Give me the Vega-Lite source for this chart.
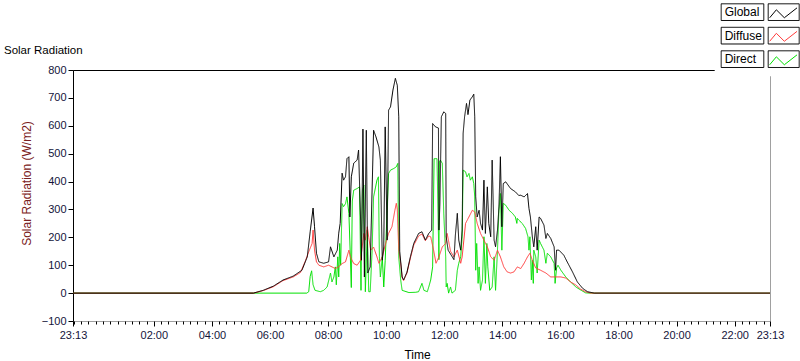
{
  "$schema": "https://vega.github.io/schema/vega-lite/v6.json",
  "width": 697,
  "height": 251,
  "autosize": "none",
  "padding": {"left": 73, "top": 70, "right": 30, "bottom": 40},
  "background": "white",
  "title": {"text": "Solar Radiation", "anchor": "start", "frame": "group", "dx": -69, "dy": 84, "offset": 16, "baseline": "alphabetic", "font": "Liberation Sans", "fontSize": 11.5, "fontWeight": "normal", "color": "#000000"},
  "data": {
    "values": [
      {"s":"Direct","t":"2024-01-01T23:13","v":0},
      {"s":"Direct","t":"2024-01-02T07:16","v":0},
      {"s":"Direct","t":"2024-01-02T07:20","v":5},
      {"s":"Direct","t":"2024-01-02T07:23","v":60},
      {"s":"Direct","t":"2024-01-02T07:26","v":80},
      {"s":"Direct","t":"2024-01-02T07:29","v":30},
      {"s":"Direct","t":"2024-01-02T07:33","v":10},
      {"s":"Direct","t":"2024-01-02T07:44","v":5},
      {"s":"Direct","t":"2024-01-02T07:51","v":10},
      {"s":"Direct","t":"2024-01-02T07:58","v":22},
      {"s":"Direct","t":"2024-01-02T08:05","v":72},
      {"s":"Direct","t":"2024-01-02T08:08","v":40},
      {"s":"Direct","t":"2024-01-02T08:12","v":58},
      {"s":"Direct","t":"2024-01-02T08:15","v":94},
      {"s":"Direct","t":"2024-01-02T08:17","v":30},
      {"s":"Direct","t":"2024-01-02T08:19","v":94},
      {"s":"Direct","t":"2024-01-02T08:20","v":130},
      {"s":"Direct","t":"2024-01-02T08:22","v":58},
      {"s":"Direct","t":"2024-01-02T08:24","v":178},
      {"s":"Direct","t":"2024-01-02T08:26","v":100},
      {"s":"Direct","t":"2024-01-02T08:29","v":321},
      {"s":"Direct","t":"2024-01-02T08:32","v":310},
      {"s":"Direct","t":"2024-01-02T08:36","v":321},
      {"s":"Direct","t":"2024-01-02T08:39","v":345},
      {"s":"Direct","t":"2024-01-02T08:43","v":286},
      {"s":"Direct","t":"2024-01-02T08:46","v":130},
      {"s":"Direct","t":"2024-01-02T08:48","v":20},
      {"s":"Direct","t":"2024-01-02T08:50","v":330},
      {"s":"Direct","t":"2024-01-02T08:53","v":369},
      {"s":"Direct","t":"2024-01-02T09:00","v":375},
      {"s":"Direct","t":"2024-01-02T09:05","v":381},
      {"s":"Direct","t":"2024-01-02T09:08","v":10},
      {"s":"Direct","t":"2024-01-02T09:11","v":370},
      {"s":"Direct","t":"2024-01-02T09:14","v":387},
      {"s":"Direct","t":"2024-01-02T09:17","v":5},
      {"s":"Direct","t":"2024-01-02T09:21","v":226},
      {"s":"Direct","t":"2024-01-02T09:24","v":5},
      {"s":"Direct","t":"2024-01-02T09:27","v":5},
      {"s":"Direct","t":"2024-01-02T09:31","v":154},
      {"s":"Direct","t":"2024-01-02T09:34","v":345},
      {"s":"Direct","t":"2024-01-02T09:41","v":405},
      {"s":"Direct","t":"2024-01-02T09:44","v":417},
      {"s":"Direct","t":"2024-01-02T09:46","v":130},
      {"s":"Direct","t":"2024-01-02T09:48","v":58},
      {"s":"Direct","t":"2024-01-02T09:52","v":130},
      {"s":"Direct","t":"2024-01-02T09:55","v":22},
      {"s":"Direct","t":"2024-01-02T09:58","v":118},
      {"s":"Direct","t":"2024-01-02T10:02","v":297},
      {"s":"Direct","t":"2024-01-02T10:05","v":429},
      {"s":"Direct","t":"2024-01-02T10:09","v":441},
      {"s":"Direct","t":"2024-01-02T10:16","v":447},
      {"s":"Direct","t":"2024-01-02T10:21","v":453},
      {"s":"Direct","t":"2024-01-02T10:24","v":465},
      {"s":"Direct","t":"2024-01-02T10:26","v":130},
      {"s":"Direct","t":"2024-01-02T10:30","v":47},
      {"s":"Direct","t":"2024-01-02T10:33","v":10},
      {"s":"Direct","t":"2024-01-02T10:47","v":2},
      {"s":"Direct","t":"2024-01-02T11:01","v":3},
      {"s":"Direct","t":"2024-01-02T11:07","v":5},
      {"s":"Direct","t":"2024-01-02T11:14","v":35},
      {"s":"Direct","t":"2024-01-02T11:18","v":10},
      {"s":"Direct","t":"2024-01-02T11:25","v":5},
      {"s":"Direct","t":"2024-01-02T11:28","v":22},
      {"s":"Direct","t":"2024-01-02T11:32","v":47},
      {"s":"Direct","t":"2024-01-02T11:36","v":94},
      {"s":"Direct","t":"2024-01-02T11:39","v":482},
      {"s":"Direct","t":"2024-01-02T11:45","v":482},
      {"s":"Direct","t":"2024-01-02T11:49","v":120},
      {"s":"Direct","t":"2024-01-02T11:50","v":470},
      {"s":"Direct","t":"2024-01-02T11:52","v":477},
      {"s":"Direct","t":"2024-01-02T11:56","v":465},
      {"s":"Direct","t":"2024-01-02T11:59","v":286},
      {"s":"Direct","t":"2024-01-02T12:03","v":130},
      {"s":"Direct","t":"2024-01-02T12:04","v":22},
      {"s":"Direct","t":"2024-01-02T12:06","v":35},
      {"s":"Direct","t":"2024-01-02T12:09","v":0},
      {"s":"Direct","t":"2024-01-02T12:13","v":22},
      {"s":"Direct","t":"2024-01-02T12:16","v":0},
      {"s":"Direct","t":"2024-01-02T12:23","v":10},
      {"s":"Direct","t":"2024-01-02T12:27","v":82},
      {"s":"Direct","t":"2024-01-02T12:30","v":107},
      {"s":"Direct","t":"2024-01-02T12:34","v":130},
      {"s":"Direct","t":"2024-01-02T12:37","v":202},
      {"s":"Direct","t":"2024-01-02T12:39","v":441},
      {"s":"Direct","t":"2024-01-02T12:44","v":435},
      {"s":"Direct","t":"2024-01-02T12:47","v":417},
      {"s":"Direct","t":"2024-01-02T12:51","v":429},
      {"s":"Direct","t":"2024-01-02T12:54","v":405},
      {"s":"Direct","t":"2024-01-02T12:58","v":417},
      {"s":"Direct","t":"2024-01-02T13:01","v":393},
      {"s":"Direct","t":"2024-01-02T13:03","v":345},
      {"s":"Direct","t":"2024-01-02T13:05","v":82},
      {"s":"Direct","t":"2024-01-02T13:07","v":178},
      {"s":"Direct","t":"2024-01-02T13:10","v":35},
      {"s":"Direct","t":"2024-01-02T13:12","v":94},
      {"s":"Direct","t":"2024-01-02T13:15","v":10},
      {"s":"Direct","t":"2024-01-02T13:19","v":47},
      {"s":"Direct","t":"2024-01-02T13:22","v":202},
      {"s":"Direct","t":"2024-01-02T13:25","v":35},
      {"s":"Direct","t":"2024-01-02T13:28","v":178},
      {"s":"Direct","t":"2024-01-02T13:30","v":94},
      {"s":"Direct","t":"2024-01-02T13:34","v":10},
      {"s":"Direct","t":"2024-01-02T13:39","v":22},
      {"s":"Direct","t":"2024-01-02T13:43","v":130},
      {"s":"Direct","t":"2024-01-02T13:46","v":10},
      {"s":"Direct","t":"2024-01-02T13:50","v":154},
      {"s":"Direct","t":"2024-01-02T13:53","v":297},
      {"s":"Direct","t":"2024-01-02T13:56","v":357},
      {"s":"Direct","t":"2024-01-02T13:59","v":154},
      {"s":"Direct","t":"2024-01-02T14:02","v":322},
      {"s":"Direct","t":"2024-01-02T14:07","v":315},
      {"s":"Direct","t":"2024-01-02T14:14","v":297},
      {"s":"Direct","t":"2024-01-02T14:21","v":286},
      {"s":"Direct","t":"2024-01-02T14:27","v":273},
      {"s":"Direct","t":"2024-01-02T14:30","v":250},
      {"s":"Direct","t":"2024-01-02T14:31","v":268},
      {"s":"Direct","t":"2024-01-02T14:34","v":262},
      {"s":"Direct","t":"2024-01-02T14:41","v":250},
      {"s":"Direct","t":"2024-01-02T14:48","v":232},
      {"s":"Direct","t":"2024-01-02T14:53","v":202},
      {"s":"Direct","t":"2024-01-02T14:55","v":154},
      {"s":"Direct","t":"2024-01-02T14:57","v":202},
      {"s":"Direct","t":"2024-01-02T15:00","v":47},
      {"s":"Direct","t":"2024-01-02T15:02","v":118},
      {"s":"Direct","t":"2024-01-02T15:04","v":35},
      {"s":"Direct","t":"2024-01-02T15:05","v":154},
      {"s":"Direct","t":"2024-01-02T15:09","v":130},
      {"s":"Direct","t":"2024-01-02T15:12","v":72},
      {"s":"Direct","t":"2024-01-02T15:16","v":190},
      {"s":"Direct","t":"2024-01-02T15:19","v":178},
      {"s":"Direct","t":"2024-01-02T15:26","v":154},
      {"s":"Direct","t":"2024-01-02T15:30","v":107},
      {"s":"Direct","t":"2024-01-02T15:33","v":143},
      {"s":"Direct","t":"2024-01-02T15:40","v":130},
      {"s":"Direct","t":"2024-01-02T15:47","v":107},
      {"s":"Direct","t":"2024-01-02T15:49","v":35},
      {"s":"Direct","t":"2024-01-02T15:52","v":90},
      {"s":"Direct","t":"2024-01-02T15:55","v":100},
      {"s":"Direct","t":"2024-01-02T16:01","v":82},
      {"s":"Direct","t":"2024-01-02T16:11","v":58},
      {"s":"Direct","t":"2024-01-02T16:21","v":40},
      {"s":"Direct","t":"2024-01-02T16:32","v":22},
      {"s":"Direct","t":"2024-01-02T16:42","v":11},
      {"s":"Direct","t":"2024-01-02T16:52","v":1},
      {"s":"Direct","t":"2024-01-02T16:59","v":0},
      {"s":"Direct","t":"2024-01-02T23:13","v":0},
      {"s":"Diffuse","t":"2024-01-01T23:13","v":0},
      {"s":"Diffuse","t":"2024-01-02T05:26","v":0},
      {"s":"Diffuse","t":"2024-01-02T05:46","v":9},
      {"s":"Diffuse","t":"2024-01-02T06:07","v":23},
      {"s":"Diffuse","t":"2024-01-02T06:27","v":45},
      {"s":"Diffuse","t":"2024-01-02T06:48","v":58},
      {"s":"Diffuse","t":"2024-01-02T07:03","v":74},
      {"s":"Diffuse","t":"2024-01-02T07:13","v":115},
      {"s":"Diffuse","t":"2024-01-02T07:20","v":148},
      {"s":"Diffuse","t":"2024-01-02T07:27","v":178},
      {"s":"Diffuse","t":"2024-01-02T07:29","v":226},
      {"s":"Diffuse","t":"2024-01-02T07:32","v":154},
      {"s":"Diffuse","t":"2024-01-02T07:36","v":112},
      {"s":"Diffuse","t":"2024-01-02T07:41","v":100},
      {"s":"Diffuse","t":"2024-01-02T07:51","v":94},
      {"s":"Diffuse","t":"2024-01-02T08:01","v":100},
      {"s":"Diffuse","t":"2024-01-02T08:08","v":94},
      {"s":"Diffuse","t":"2024-01-02T08:15","v":88},
      {"s":"Diffuse","t":"2024-01-02T08:22","v":95},
      {"s":"Diffuse","t":"2024-01-02T08:29","v":106},
      {"s":"Diffuse","t":"2024-01-02T08:36","v":112},
      {"s":"Diffuse","t":"2024-01-02T08:43","v":154},
      {"s":"Diffuse","t":"2024-01-02T08:46","v":130},
      {"s":"Diffuse","t":"2024-01-02T08:53","v":106},
      {"s":"Diffuse","t":"2024-01-02T09:00","v":100},
      {"s":"Diffuse","t":"2024-01-02T09:07","v":118},
      {"s":"Diffuse","t":"2024-01-02T09:14","v":214},
      {"s":"Diffuse","t":"2024-01-02T09:17","v":190},
      {"s":"Diffuse","t":"2024-01-02T09:21","v":238},
      {"s":"Diffuse","t":"2024-01-02T09:24","v":200},
      {"s":"Diffuse","t":"2024-01-02T09:28","v":154},
      {"s":"Diffuse","t":"2024-01-02T09:34","v":165},
      {"s":"Diffuse","t":"2024-01-02T09:41","v":130},
      {"s":"Diffuse","t":"2024-01-02T09:45","v":107},
      {"s":"Diffuse","t":"2024-01-02T09:52","v":130},
      {"s":"Diffuse","t":"2024-01-02T09:59","v":178},
      {"s":"Diffuse","t":"2024-01-02T10:05","v":214},
      {"s":"Diffuse","t":"2024-01-02T10:12","v":238},
      {"s":"Diffuse","t":"2024-01-02T10:18","v":297},
      {"s":"Diffuse","t":"2024-01-02T10:21","v":322},
      {"s":"Diffuse","t":"2024-01-02T10:23","v":300},
      {"s":"Diffuse","t":"2024-01-02T10:26","v":154},
      {"s":"Diffuse","t":"2024-01-02T10:30","v":107},
      {"s":"Diffuse","t":"2024-01-02T10:33","v":56},
      {"s":"Diffuse","t":"2024-01-02T10:36","v":45},
      {"s":"Diffuse","t":"2024-01-02T10:43","v":72},
      {"s":"Diffuse","t":"2024-01-02T10:50","v":125},
      {"s":"Diffuse","t":"2024-01-02T10:57","v":172},
      {"s":"Diffuse","t":"2024-01-02T11:07","v":205},
      {"s":"Diffuse","t":"2024-01-02T11:14","v":212},
      {"s":"Diffuse","t":"2024-01-02T11:21","v":188},
      {"s":"Diffuse","t":"2024-01-02T11:28","v":205},
      {"s":"Diffuse","t":"2024-01-02T11:32","v":202},
      {"s":"Diffuse","t":"2024-01-02T11:38","v":154},
      {"s":"Diffuse","t":"2024-01-02T11:43","v":107},
      {"s":"Diffuse","t":"2024-01-02T11:49","v":130},
      {"s":"Diffuse","t":"2024-01-02T11:56","v":166},
      {"s":"Diffuse","t":"2024-01-02T12:03","v":178},
      {"s":"Diffuse","t":"2024-01-02T12:06","v":214},
      {"s":"Diffuse","t":"2024-01-02T12:13","v":150},
      {"s":"Diffuse","t":"2024-01-02T12:20","v":130},
      {"s":"Diffuse","t":"2024-01-02T12:27","v":154},
      {"s":"Diffuse","t":"2024-01-02T12:34","v":107},
      {"s":"Diffuse","t":"2024-01-02T12:37","v":130},
      {"s":"Diffuse","t":"2024-01-02T12:44","v":250},
      {"s":"Diffuse","t":"2024-01-02T12:51","v":273},
      {"s":"Diffuse","t":"2024-01-02T12:58","v":297},
      {"s":"Diffuse","t":"2024-01-02T13:03","v":291},
      {"s":"Diffuse","t":"2024-01-02T13:08","v":250},
      {"s":"Diffuse","t":"2024-01-02T13:15","v":214},
      {"s":"Diffuse","t":"2024-01-02T13:22","v":190},
      {"s":"Diffuse","t":"2024-01-02T13:29","v":166},
      {"s":"Diffuse","t":"2024-01-02T13:36","v":130},
      {"s":"Diffuse","t":"2024-01-02T13:43","v":118},
      {"s":"Diffuse","t":"2024-01-02T13:50","v":154},
      {"s":"Diffuse","t":"2024-01-02T13:56","v":130},
      {"s":"Diffuse","t":"2024-01-02T14:03","v":94},
      {"s":"Diffuse","t":"2024-01-02T14:10","v":76},
      {"s":"Diffuse","t":"2024-01-02T14:17","v":72},
      {"s":"Diffuse","t":"2024-01-02T14:24","v":76},
      {"s":"Diffuse","t":"2024-01-02T14:31","v":94},
      {"s":"Diffuse","t":"2024-01-02T14:38","v":88},
      {"s":"Diffuse","t":"2024-01-02T14:45","v":107},
      {"s":"Diffuse","t":"2024-01-02T14:52","v":130},
      {"s":"Diffuse","t":"2024-01-02T14:57","v":143},
      {"s":"Diffuse","t":"2024-01-02T15:02","v":118},
      {"s":"Diffuse","t":"2024-01-02T15:09","v":90},
      {"s":"Diffuse","t":"2024-01-02T15:19","v":82},
      {"s":"Diffuse","t":"2024-01-02T15:30","v":72},
      {"s":"Diffuse","t":"2024-01-02T15:40","v":58},
      {"s":"Diffuse","t":"2024-01-02T15:50","v":58},
      {"s":"Diffuse","t":"2024-01-02T16:01","v":58},
      {"s":"Diffuse","t":"2024-01-02T16:11","v":54},
      {"s":"Diffuse","t":"2024-01-02T16:21","v":40},
      {"s":"Diffuse","t":"2024-01-02T16:32","v":29},
      {"s":"Diffuse","t":"2024-01-02T16:42","v":14},
      {"s":"Diffuse","t":"2024-01-02T16:52","v":5},
      {"s":"Diffuse","t":"2024-01-02T17:03","v":0},
      {"s":"Diffuse","t":"2024-01-02T23:13","v":0},
      {"s":"Global","t":"2024-01-01T23:13","v":0},
      {"s":"Global","t":"2024-01-02T05:26","v":0},
      {"s":"Global","t":"2024-01-02T05:46","v":10},
      {"s":"Global","t":"2024-01-02T06:07","v":25},
      {"s":"Global","t":"2024-01-02T06:27","v":47},
      {"s":"Global","t":"2024-01-02T06:48","v":61},
      {"s":"Global","t":"2024-01-02T07:06","v":82},
      {"s":"Global","t":"2024-01-02T07:17","v":130},
      {"s":"Global","t":"2024-01-02T07:23","v":220},
      {"s":"Global","t":"2024-01-02T07:29","v":305},
      {"s":"Global","t":"2024-01-02T07:32","v":238},
      {"s":"Global","t":"2024-01-02T07:36","v":143},
      {"s":"Global","t":"2024-01-02T07:41","v":112},
      {"s":"Global","t":"2024-01-02T07:51","v":107},
      {"s":"Global","t":"2024-01-02T08:01","v":112},
      {"s":"Global","t":"2024-01-02T08:05","v":166},
      {"s":"Global","t":"2024-01-02T08:12","v":130},
      {"s":"Global","t":"2024-01-02T08:19","v":154},
      {"s":"Global","t":"2024-01-02T08:22","v":215},
      {"s":"Global","t":"2024-01-02T08:25","v":250},
      {"s":"Global","t":"2024-01-02T08:29","v":430},
      {"s":"Global","t":"2024-01-02T08:32","v":405},
      {"s":"Global","t":"2024-01-02T08:36","v":417},
      {"s":"Global","t":"2024-01-02T08:39","v":482},
      {"s":"Global","t":"2024-01-02T08:43","v":489},
      {"s":"Global","t":"2024-01-02T08:45","v":273},
      {"s":"Global","t":"2024-01-02T08:48","v":417},
      {"s":"Global","t":"2024-01-02T08:53","v":466},
      {"s":"Global","t":"2024-01-02T09:00","v":477},
      {"s":"Global","t":"2024-01-02T09:03","v":513},
      {"s":"Global","t":"2024-01-02T09:07","v":273},
      {"s":"Global","t":"2024-01-02T09:09","v":118},
      {"s":"Global","t":"2024-01-02T09:12","v":588},
      {"s":"Global","t":"2024-01-02T09:15","v":58},
      {"s":"Global","t":"2024-01-02T09:19","v":584},
      {"s":"Global","t":"2024-01-02T09:22","v":72},
      {"s":"Global","t":"2024-01-02T09:27","v":94},
      {"s":"Global","t":"2024-01-02T09:34","v":584},
      {"s":"Global","t":"2024-01-02T09:39","v":560},
      {"s":"Global","t":"2024-01-02T09:45","v":524},
      {"s":"Global","t":"2024-01-02T09:48","v":477},
      {"s":"Global","t":"2024-01-02T09:52","v":118},
      {"s":"Global","t":"2024-01-02T09:55","v":166},
      {"s":"Global","t":"2024-01-02T09:58","v":596},
      {"s":"Global","t":"2024-01-02T10:02","v":190},
      {"s":"Global","t":"2024-01-02T10:05","v":656},
      {"s":"Global","t":"2024-01-02T10:09","v":668},
      {"s":"Global","t":"2024-01-02T10:14","v":728},
      {"s":"Global","t":"2024-01-02T10:19","v":770},
      {"s":"Global","t":"2024-01-02T10:23","v":745},
      {"s":"Global","t":"2024-01-02T10:26","v":632},
      {"s":"Global","t":"2024-01-02T10:28","v":150},
      {"s":"Global","t":"2024-01-02T10:33","v":58},
      {"s":"Global","t":"2024-01-02T10:36","v":47},
      {"s":"Global","t":"2024-01-02T10:43","v":75},
      {"s":"Global","t":"2024-01-02T10:50","v":130},
      {"s":"Global","t":"2024-01-02T10:57","v":178},
      {"s":"Global","t":"2024-01-02T11:07","v":214},
      {"s":"Global","t":"2024-01-02T11:14","v":220},
      {"s":"Global","t":"2024-01-02T11:21","v":190},
      {"s":"Global","t":"2024-01-02T11:28","v":214},
      {"s":"Global","t":"2024-01-02T11:34","v":226},
      {"s":"Global","t":"2024-01-02T11:36","v":608},
      {"s":"Global","t":"2024-01-02T11:42","v":596},
      {"s":"Global","t":"2024-01-02T11:48","v":592},
      {"s":"Global","t":"2024-01-02T11:49","v":226},
      {"s":"Global","t":"2024-01-02T11:51","v":320},
      {"s":"Global","t":"2024-01-02T11:54","v":632},
      {"s":"Global","t":"2024-01-02T11:59","v":650},
      {"s":"Global","t":"2024-01-02T12:03","v":644},
      {"s":"Global","t":"2024-01-02T12:04","v":202},
      {"s":"Global","t":"2024-01-02T12:08","v":154},
      {"s":"Global","t":"2024-01-02T12:13","v":140},
      {"s":"Global","t":"2024-01-02T12:20","v":120},
      {"s":"Global","t":"2024-01-02T12:23","v":208},
      {"s":"Global","t":"2024-01-02T12:27","v":286},
      {"s":"Global","t":"2024-01-02T12:30","v":190},
      {"s":"Global","t":"2024-01-02T12:34","v":154},
      {"s":"Global","t":"2024-01-02T12:37","v":226},
      {"s":"Global","t":"2024-01-02T12:39","v":573},
      {"s":"Global","t":"2024-01-02T12:42","v":632},
      {"s":"Global","t":"2024-01-02T12:46","v":680},
      {"s":"Global","t":"2024-01-02T12:49","v":640},
      {"s":"Global","t":"2024-01-02T12:53","v":692},
      {"s":"Global","t":"2024-01-02T12:58","v":704},
      {"s":"Global","t":"2024-01-02T13:01","v":713},
      {"s":"Global","t":"2024-01-02T13:03","v":632},
      {"s":"Global","t":"2024-01-02T13:05","v":345},
      {"s":"Global","t":"2024-01-02T13:08","v":273},
      {"s":"Global","t":"2024-01-02T13:12","v":297},
      {"s":"Global","t":"2024-01-02T13:15","v":250},
      {"s":"Global","t":"2024-01-02T13:19","v":226},
      {"s":"Global","t":"2024-01-02T13:22","v":405},
      {"s":"Global","t":"2024-01-02T13:25","v":214},
      {"s":"Global","t":"2024-01-02T13:29","v":381},
      {"s":"Global","t":"2024-01-02T13:32","v":250},
      {"s":"Global","t":"2024-01-02T13:36","v":202},
      {"s":"Global","t":"2024-01-02T13:39","v":477},
      {"s":"Global","t":"2024-01-02T13:43","v":190},
      {"s":"Global","t":"2024-01-02T13:46","v":166},
      {"s":"Global","t":"2024-01-02T13:50","v":226},
      {"s":"Global","t":"2024-01-02T13:53","v":309},
      {"s":"Global","t":"2024-01-02T13:56","v":489},
      {"s":"Global","t":"2024-01-02T13:59","v":238},
      {"s":"Global","t":"2024-01-02T14:02","v":393},
      {"s":"Global","t":"2024-01-02T14:07","v":399},
      {"s":"Global","t":"2024-01-02T14:17","v":375},
      {"s":"Global","t":"2024-01-02T14:27","v":363},
      {"s":"Global","t":"2024-01-02T14:34","v":350},
      {"s":"Global","t":"2024-01-02T14:38","v":351},
      {"s":"Global","t":"2024-01-02T14:45","v":345},
      {"s":"Global","t":"2024-01-02T14:52","v":357},
      {"s":"Global","t":"2024-01-02T14:55","v":304},
      {"s":"Global","t":"2024-01-02T14:58","v":273},
      {"s":"Global","t":"2024-01-02T15:02","v":202},
      {"s":"Global","t":"2024-01-02T15:05","v":166},
      {"s":"Global","t":"2024-01-02T15:09","v":238},
      {"s":"Global","t":"2024-01-02T15:12","v":154},
      {"s":"Global","t":"2024-01-02T15:16","v":273},
      {"s":"Global","t":"2024-01-02T15:19","v":268},
      {"s":"Global","t":"2024-01-02T15:26","v":244},
      {"s":"Global","t":"2024-01-02T15:30","v":196},
      {"s":"Global","t":"2024-01-02T15:33","v":214},
      {"s":"Global","t":"2024-01-02T15:40","v":196},
      {"s":"Global","t":"2024-01-02T15:47","v":166},
      {"s":"Global","t":"2024-01-02T15:50","v":82},
      {"s":"Global","t":"2024-01-02T15:52","v":154},
      {"s":"Global","t":"2024-01-02T15:57","v":154},
      {"s":"Global","t":"2024-01-02T16:07","v":136},
      {"s":"Global","t":"2024-01-02T16:14","v":112},
      {"s":"Global","t":"2024-01-02T16:25","v":76},
      {"s":"Global","t":"2024-01-02T16:35","v":40},
      {"s":"Global","t":"2024-01-02T16:46","v":17},
      {"s":"Global","t":"2024-01-02T16:56","v":5},
      {"s":"Global","t":"2024-01-02T17:10","v":0},
      {"s":"Global","t":"2024-01-02T23:13","v":0}
    ]
  },
  "mark": {"type": "line", "strokeWidth": 1},
  "encoding": {
    "x": {
      "field": "t", "type": "temporal",
      "scale": {"domain": [{"year": 2024, "month": 1, "date": 1, "hours": 23, "minutes": 13}, {"year": 2024, "month": 1, "date": 2, "hours": 23, "minutes": 13}]},
      "axis": {
        "values": {"expr": "[datetime(2024,0,1,23,13),datetime(2024,0,1,23,15),datetime(2024,0,1,23,30),datetime(2024,0,1,23,45),datetime(2024,0,2,0,0),datetime(2024,0,2,0,15),datetime(2024,0,2,0,30),datetime(2024,0,2,0,45),datetime(2024,0,2,1,0),datetime(2024,0,2,1,15),datetime(2024,0,2,1,30),datetime(2024,0,2,1,45),datetime(2024,0,2,2,0),datetime(2024,0,2,2,15),datetime(2024,0,2,2,30),datetime(2024,0,2,2,45),datetime(2024,0,2,3,0),datetime(2024,0,2,3,15),datetime(2024,0,2,3,30),datetime(2024,0,2,3,45),datetime(2024,0,2,4,0),datetime(2024,0,2,4,15),datetime(2024,0,2,4,30),datetime(2024,0,2,4,45),datetime(2024,0,2,5,0),datetime(2024,0,2,5,15),datetime(2024,0,2,5,30),datetime(2024,0,2,5,45),datetime(2024,0,2,6,0),datetime(2024,0,2,6,15),datetime(2024,0,2,6,30),datetime(2024,0,2,6,45),datetime(2024,0,2,7,0),datetime(2024,0,2,7,15),datetime(2024,0,2,7,30),datetime(2024,0,2,7,45),datetime(2024,0,2,8,0),datetime(2024,0,2,8,15),datetime(2024,0,2,8,30),datetime(2024,0,2,8,45),datetime(2024,0,2,9,0),datetime(2024,0,2,9,15),datetime(2024,0,2,9,30),datetime(2024,0,2,9,45),datetime(2024,0,2,10,0),datetime(2024,0,2,10,15),datetime(2024,0,2,10,30),datetime(2024,0,2,10,45),datetime(2024,0,2,11,0),datetime(2024,0,2,11,15),datetime(2024,0,2,11,30),datetime(2024,0,2,11,45),datetime(2024,0,2,12,0),datetime(2024,0,2,12,15),datetime(2024,0,2,12,30),datetime(2024,0,2,12,45),datetime(2024,0,2,13,0),datetime(2024,0,2,13,15),datetime(2024,0,2,13,30),datetime(2024,0,2,13,45),datetime(2024,0,2,14,0),datetime(2024,0,2,14,15),datetime(2024,0,2,14,30),datetime(2024,0,2,14,45),datetime(2024,0,2,15,0),datetime(2024,0,2,15,15),datetime(2024,0,2,15,30),datetime(2024,0,2,15,45),datetime(2024,0,2,16,0),datetime(2024,0,2,16,15),datetime(2024,0,2,16,30),datetime(2024,0,2,16,45),datetime(2024,0,2,17,0),datetime(2024,0,2,17,15),datetime(2024,0,2,17,30),datetime(2024,0,2,17,45),datetime(2024,0,2,18,0),datetime(2024,0,2,18,15),datetime(2024,0,2,18,30),datetime(2024,0,2,18,45),datetime(2024,0,2,19,0),datetime(2024,0,2,19,15),datetime(2024,0,2,19,30),datetime(2024,0,2,19,45),datetime(2024,0,2,20,0),datetime(2024,0,2,20,15),datetime(2024,0,2,20,30),datetime(2024,0,2,20,45),datetime(2024,0,2,21,0),datetime(2024,0,2,21,15),datetime(2024,0,2,21,30),datetime(2024,0,2,21,45),datetime(2024,0,2,22,0),datetime(2024,0,2,22,15),datetime(2024,0,2,22,30),datetime(2024,0,2,22,45),datetime(2024,0,2,23,0),datetime(2024,0,2,23,13)]"},
        "labelExpr": "(minutes(datum.value) === 13 || (minutes(datum.value) === 0 && hours(datum.value) % 2 === 0 && hours(datum.value) > 0)) ? timeFormat(datum.value, '%H:%M') : ''",
        "tickSize": {"condition": {"test": "minutes(datum.value) === 13 || (minutes(datum.value) === 0 && hours(datum.value) % 2 === 0 && hours(datum.value) > 0)", "value": 5}, "value": 3},
        "labelFlush": false, "labelOverlap": false, "labelBound": false,
        "labelFont": "Liberation Sans", "labelFontSize": 11, "labelColor": "#14143a", "labelPadding": 3,
        "tickColor": "#000000", "domain": false, "grid": false,
        "title": "Time", "titleFont": "Liberation Sans", "titleFontSize": 12, "titleFontWeight": "normal", "titleColor": "#000000",
        "titleX": 344, "titleY": 37, "titleAlign": "center", "titleBaseline": "alphabetic"
      }
    },
    "y": {
      "field": "v", "type": "quantitative",
      "scale": {"domain": [-100, 800], "nice": false, "zero": false},
      "axis": {
        "values": [-100, 0, 100, 200, 300, 400, 500, 600, 700, 800],
        "title": "Solar Radiation (W/m2)",
        "titleColor": "#7a2020", "titleFont": "Liberation Sans", "titleFontSize": 12, "titleFontWeight": "normal",
        "titleX": -40, "titleY": 113, "titleAngle": 270, "titleBaseline": "bottom", "titleAlign": "center",
        "labelFont": "Liberation Sans", "labelFontSize": 11, "labelColor": "#14143a", "labelPadding": 2,
        "tickSize": 5, "tickColor": "#000000", "domainColor": "#000000",
        "grid": true,
        "gridColor": {"condition": {"test": "datum.value === 800", "value": "#000000"}, "value": "rgba(0,0,0,0)"},
        "labelFlush": false
      }
    },
    "color": {
      "field": "s", "type": "nominal",
      "scale": {"domain": ["Global", "Diffuse", "Direct"], "range": ["#000000", "#ff3c3c", "#00e000"]},
      "legend": {
        "orient": "none", "legendX": 641.7, "legendY": -72.7, "padding": 6, "title": null,
        "fillColor": "#ffffff",
        "symbolType": "M-1,-1L-1,-1M1,-0.572L1,-0.572M0.243,-0.642L0.414,-0.846L0.619,-0.642L0.944,-0.896",
        "symbolSize": 6084, "symbolStrokeWidth": 1,
        "labelFont": "Liberation Sans", "labelFontSize": 12, "labelColor": "#000000",
        "labelOffset": -75, "labelAlign": "left", "rowPadding": 1.5,
        "encode": {
          "symbols": {"update": {"fill": {"value": "transparent"}}},
          "labels": {"update": {"dy": {"value": -30.6}}}
        }
      }
    },
    "strokeDash": {
      "field": "s", "type": "nominal", "sort": ["Global", "Diffuse", "Direct"],
      "scale": {"range": [[1, 0], [1, 0], [1, 0]]},
      "legend": {
        "orient": "none", "legendX": 641.7, "legendY": -72.7, "padding": 6, "title": null,
        "symbolType": "M-1,-1H0.092V-0.572H-1ZM0.205,-1H1V-0.572H0.205Z",
        "symbolSize": 6084, "symbolStrokeWidth": 1, "symbolStrokeColor": "#000000",
        "labelFont": "Liberation Sans", "labelFontSize": 12, "labelColor": "#000000", "labelOpacity": 0,
        "labelOffset": -75, "labelAlign": "left", "rowPadding": 1.5,
        "encode": {
          "symbols": {"update": {"stroke": {"value": "#000000"}, "fill": {"value": "transparent"}}},
          "labels": {"update": {"dy": {"value": -30.6}}}
        }
      }
    }
  },
  "config": {
    "view": {"stroke": "#a0a0a0", "strokeWidth": 1},
    "font": "Liberation Sans"
  }
}
